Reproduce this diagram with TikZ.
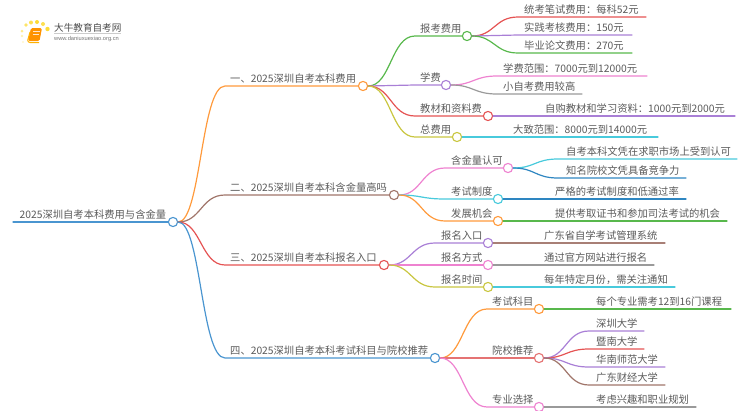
\documentclass[tikz,border=0pt]{standalone}
\usepackage{fontspec}
\setmainfont{Noto Sans CJK SC}
\newfontfamily\latinlogo{Liberation Sans}
\definecolor{cOrange}{HTML}{FF9A3C}
\definecolor{cBrown}{HTML}{A0756A}
\definecolor{cRed}{HTML}{E55353}
\definecolor{cSalmon}{HTML}{E57373}
\definecolor{cBlue}{HTML}{4A95D0}
\definecolor{cDeep}{HTML}{2E86C1}
\definecolor{cGreen}{HTML}{58B84C}
\definecolor{cPurple}{HTML}{A97FD6}
\definecolor{cPink}{HTML}{EE82D0}
\definecolor{cOlive}{HTML}{C9C640}
\definecolor{cCyan}{HTML}{48CADC}
\definecolor{cGray}{HTML}{9A9A9A}
\definecolor{cTaupe}{HTML}{A87F76}
\definecolor{cText}{HTML}{5A5A5A}
\tikzset{
  hub/.style={circle,fill=white,line width=1.1pt,minimum size=9.2pt,inner sep=0pt},
  lbl/.style={anchor=base west,inner sep=0pt,text=cText,font=\fontsize{10.3}{12}\selectfont},
  conn/.style={line width=1.2pt,line cap=round}
}
% name, parent, curve end x, hub x, y, colour, text x, text
\newcommand{\hubbranch}[8]{%
  \pgfmathsetmacro{\mx}{(\csname px#2\endcsname+#3)/2+2}%
  \expandafter\xdef\csname px#1\endcsname{#4}%
  \expandafter\xdef\csname py#1\endcsname{#5}%
  \node[hub,draw=#6] (#1) at (#4,#5) {};
  \coordinate (#1B) at (#3,#5);
  \draw[conn,#6] (#2.east) .. controls (\mx,\csname py#2\endcsname) and (\mx,#5) .. (#1B) -- (#1.west);
  \node[lbl] (#1T) at (#7,#5-3.5) {#8};
}
% name, parent, curve end x, line end x, y, colour, text x, text
\newcommand{\leafcurve}[8]{%
  \pgfmathsetmacro{\mx}{(\csname px#2\endcsname+#3)/2+2}%
  \coordinate (#1B) at (#3,#5);
  \coordinate (#1E) at (#4,#5);
  \draw[conn,#6] (#2.east) .. controls (\mx,\csname py#2\endcsname) and (\mx,#5) .. (#1B) -- (#1E);
  \node[lbl] (#1T) at (#7,#5-3.5) {#8};
}
% name, parent, line end x, colour, text x, text
\newcommand{\leafline}[6]{%
  \coordinate (#1E) at (#3,\csname py#2\endcsname);
  \draw[conn,#4] (#2.east) -- (#1E);
  \node[lbl] (#1T) at (#5,\csname py#2\endcsname-3.5) {#6};
}
\begin{document}
\begin{tikzpicture}[x=1pt,y=-1pt]
\useasboundingbox (0,0) rectangle (750,410);
% logo
\foreach \a/\b/\r/\c in {26/25/1.9/60,31/22.5/2/70,37/22/2/80,43/24/2/70,47.5/29/2.2/80,22/31/1.5/45,22/36/1.3/30,23/42/1.1/20}
  \fill[yellow!70!orange,opacity=\c/100] (\a,\b) circle (\r);
\fill[orange!85!yellow,rounded corners=1.5pt] (31,28) -- (42,28) -- (39.5,41) -- (28,41) -- cycle;
\draw[orange!60!yellow,line width=1pt,rounded corners=1pt] (30,32) -- (27.5,41) -- (29,42.5) -- (39,42.5);
\draw[white!80!orange,line width=.7pt] (33,31.5) -- (39.5,31.5) (32.5,34) -- (39,34);
\node[anchor=base west,inner sep=0pt,text=black!70,font=\fontsize{9.6}{11}\selectfont] (logoname) at (54,31) {大牛教育自考网};
\draw[black!20,line width=.5pt] (54,33.5) -- (121,33.5);
\node[anchor=base west,inner sep=0pt,text=black!55,font=\latinlogo\fontsize{5.7}{7}\selectfont] (logourl) at (54,40.5) {www.daniuxuexiao.org.cn};
% root
\node[hub,draw=cBlue] (root) at (173,222) {};
\def\pxroot{173}\def\pyroot{222}
\coordinate (rootS) at (13,222);
\draw[conn,cBlue] (rootS) -- (root.west);
\node[lbl] (rootT) at (19.5,218.5) {2025深圳自考本科费用与含金量};
% level 1
\hubbranch{A}{root}{225}{363}{86}{cOrange}{230}{一、2025深圳自考本科费用}
\hubbranch{B}{root}{225}{394}{195}{cBrown}{230}{二、2025深圳自考本科含金量高吗}
\hubbranch{C}{root}{225}{384}{265}{cRed}{230}{三、2025深圳自考本科报名入口}
\hubbranch{D}{root}{225}{435}{358}{cBlue}{230}{四、2025深圳自考本科考试科目与院校推荐}
% A
\hubbranch{Aa}{A}{415}{467}{36}{cGreen}{420}{报考费用}
\hubbranch{Ab}{A}{415}{446}{85}{cPurple}{420}{学费}
\hubbranch{Ac}{A}{415}{488}{116}{cRed}{420}{教材和资料费}
\hubbranch{Ad}{A}{415}{457}{137}{cOlive}{420}{总费用}
\leafcurve{Aa1}{Aa}{518}{646}{17}{cRed}{524}{统考笔试费用：每科52元}
\leafcurve{Aa2}{Aa}{518}{632}{35}{cPurple}{524}{实践考核费用：150元}
\leafcurve{Aa3}{Aa}{518}{632}{53}{cGreen}{524}{毕业论文费用：270元}
\leafcurve{Ab1}{Ab}{497}{647}{76}{cPink}{503}{学费范围：7000元到12000元}
\leafcurve{Ab2}{Ab}{497}{582}{94}{cGray}{503}{小自考费用较高}
\leafline{Ac1}{Ac}{735}{cPurple}{545}{自购教材和学习资料：1000元到2000元}
\leafline{Ad1}{Ad}{658}{cCyan}{513}{大致范围：8000元到14000元}
% B
\hubbranch{Ba}{B}{445}{508}{168}{cPink}{451}{含金量认可}
\hubbranch{Bb}{B}{445}{498}{199}{cCyan}{451}{考试制度}
\hubbranch{Bc}{B}{445}{498}{221}{cOrange}{451}{发展机会}
\leafcurve{Ba1}{Ba}{558}{737}{159}{cCyan}{566}{自考本科文凭在求职市场上受到认可}
\leafcurve{Ba2}{Ba}{558}{686}{178}{cDeep}{566}{知名院校文凭具备竞争力}
\leafline{Bb1}{Bb}{686}{cDeep}{555}{严格的考试制度和低通过率}
\leafline{Bc1}{Bc}{727}{cGreen}{555}{提供考取证书和参加司法考试的机会}
% C
\hubbranch{Ca}{C}{435}{488}{243}{cPurple}{441}{报名入口}
\hubbranch{Cb}{C}{435}{488}{265}{cPink}{441}{报名方式}
\hubbranch{Cc}{C}{435}{488}{287}{cOlive}{441}{报名时间}
\leafline{Ca1}{Ca}{665}{cTaupe}{544}{广东省自学考试管理系统}
\leafline{Cb1}{Cb}{654}{cGray}{544}{通过官方网站进行报名}
\leafline{Cc1}{Cc}{675}{cCyan}{544}{每年特定月份，需关注通知}
% D
\hubbranch{Da}{D}{487}{539}{309}{cOrange}{492}{考试科目}
\hubbranch{Db}{D}{487}{539}{358}{cSalmon}{492}{院校推荐}
\hubbranch{Dc}{D}{487}{539}{407}{cPink}{492}{专业选择}
\leafline{Da1}{Da}{731}{cGreen}{596}{每个专业需考12到16门课程}
\leafcurve{Db1}{Db}{589}{644}{331}{cPurple}{596}{深圳大学}
\leafcurve{Db2}{Db}{589}{644}{349}{cRed}{596}{暨南大学}
\leafcurve{Db3}{Db}{589}{665}{367}{cPurple}{596}{华南师范大学}
\leafcurve{Db4}{Db}{589}{665}{385}{cBrown}{596}{广东财经大学}
\leafline{Dc1}{Dc}{696}{cGray}{596}{考虑兴趣和职业规划}
\end{tikzpicture}
\end{document}
